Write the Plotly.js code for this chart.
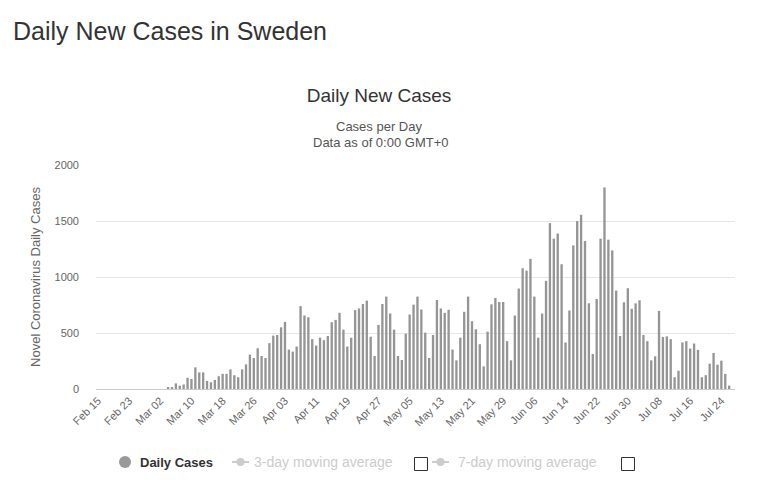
<!DOCTYPE html>
<html><head><meta charset="utf-8">
<script src="https://cdn.plot.ly/plotly-3.0.1.min.js"></script>
<style>html,body{margin:0;padding:0;background:#fff;}#chart{width:776px;height:495px;}</style>
</head><body><div id="chart"></div>
<script>
const dates = [
"Feb 15","Feb 16","Feb 17","Feb 18","Feb 19","Feb 20","Feb 21","Feb 22","Feb 23","Feb 24","Feb 25","Feb 26","Feb 27","Feb 28","Feb 29",
"Mar 01","Mar 02","Mar 03","Mar 04","Mar 05","Mar 06","Mar 07","Mar 08","Mar 09","Mar 10","Mar 11","Mar 12","Mar 13","Mar 14","Mar 15","Mar 16","Mar 17","Mar 18","Mar 19","Mar 20","Mar 21","Mar 22","Mar 23","Mar 24","Mar 25","Mar 26","Mar 27","Mar 28","Mar 29","Mar 30","Mar 31",
"Apr 01","Apr 02","Apr 03","Apr 04","Apr 05","Apr 06","Apr 07","Apr 08","Apr 09","Apr 10","Apr 11","Apr 12","Apr 13","Apr 14","Apr 15","Apr 16","Apr 17","Apr 18","Apr 19","Apr 20","Apr 21","Apr 22","Apr 23","Apr 24","Apr 25","Apr 26","Apr 27","Apr 28","Apr 29","Apr 30",
"May 01","May 02","May 03","May 04","May 05","May 06","May 07","May 08","May 09","May 10","May 11","May 12","May 13","May 14","May 15","May 16","May 17","May 18","May 19","May 20","May 21","May 22","May 23","May 24","May 25","May 26","May 27","May 28","May 29","May 30","May 31",
"Jun 01","Jun 02","Jun 03","Jun 04","Jun 05","Jun 06","Jun 07","Jun 08","Jun 09","Jun 10","Jun 11","Jun 12","Jun 13","Jun 14","Jun 15","Jun 16","Jun 17","Jun 18","Jun 19","Jun 20","Jun 21","Jun 22","Jun 23","Jun 24","Jun 25","Jun 26","Jun 27","Jun 28","Jun 29","Jun 30",
"Jul 01","Jul 02","Jul 03","Jul 04","Jul 05","Jul 06","Jul 07","Jul 08","Jul 09","Jul 10","Jul 11","Jul 12","Jul 13","Jul 14","Jul 15","Jul 16","Jul 17","Jul 18","Jul 19","Jul 20","Jul 21","Jul 22","Jul 23","Jul 24","Jul 25","Jul 26","Jul 27"
];
const dailyCases = [
0,0,0,0,0,0,0,0,0,0,0,0,0,0,0,
0,0,0,18,18,50,30,40,100,90,193,148,148,72,60,81,114,135,135,175,123,105,175,220,307,277,364,295,277,409,476,
482,551,599,352,334,379,740,656,641,445,388,458,436,473,596,617,680,530,379,458,704,719,759,789,467,295,572,759,825,674,
530,295,259,494,665,753,825,710,503,277,482,795,719,680,707,352,256,458,689,825,605,533,400,202,512,756,813,777,777,427,256,
656,897,1078,1057,1162,825,458,674,966,1481,1342,1388,1114,415,701,1282,1499,1556,1321,765,313,804,1342,1800,1333,1237,879,473,774,900,
716,765,792,482,427,256,292,698,464,470,445,105,163,415,427,361,406,349,105,123,226,322,217,253,135,30,0
];
const tickLabels = ["Feb 15","Feb 23","Mar 02","Mar 10","Mar 18","Mar 26","Apr 03","Apr 11","Apr 19","Apr 27","May 05","May 13","May 21","May 29","Jun 06","Jun 14","Jun 22","Jun 30","Jul 08","Jul 16","Jul 24"];
const yTicks = [0,500,1000,1500,2000];
const seriesName = "Daily Cases";
const inactiveNames = ["3-day moving average","7-day moving average"];

const W=776,H=495,M={l:96,r:41,t:165,b:106};
const PW=W-M.l-M.r, PH=H-M.t-M.b;
const px = x => (x-M.l)/PW;
const py = y => (H-M.b-y)/PH;
const FONT = '"Liberation Sans", Arial, sans-serif';

const trace = {
  type:'bar', x:dates, y:dailyCases, name:seriesName,
  marker:{color:'#959595'}, showlegend:false, hoverinfo:'x+y'
};

const legY = 462;
const shapes = [
  {type:'circle', xref:'paper', yref:'paper', x0:px(119), x1:px(131), y0:py(468), y1:py(456), fillcolor:'#999999', line:{width:0}},
  {type:'line', xref:'paper', yref:'paper', x0:px(232), x1:px(249), y0:py(legY), y1:py(legY), line:{color:'#cccccc', width:2}},
  {type:'circle', xref:'paper', yref:'paper', x0:px(236.5), x1:px(244.5), y0:py(466), y1:py(458), fillcolor:'#cccccc', line:{width:0}},
  {type:'rect', xref:'paper', yref:'paper', x0:px(414.5), x1:px(427.5), y0:py(470.5), y1:py(457.5), fillcolor:'#ffffff', line:{color:'#333333', width:1}},
  {type:'line', xref:'paper', yref:'paper', x0:px(432), x1:px(449), y0:py(legY), y1:py(legY), line:{color:'#cccccc', width:2}},
  {type:'circle', xref:'paper', yref:'paper', x0:px(436.5), x1:px(444.5), y0:py(466), y1:py(458), fillcolor:'#cccccc', line:{width:0}},
  {type:'rect', xref:'paper', yref:'paper', x0:px(621.5), x1:px(634.5), y0:py(470.5), y1:py(457.5), fillcolor:'#ffffff', line:{color:'#333333', width:1}}
];

const annotations = [
  {text:'Daily New Cases in Sweden', xref:'paper', yref:'paper', x:px(11), y:py(31), xanchor:'left', yanchor:'middle', showarrow:false, font:{family:FONT, size:25, color:'#333333'}},
  {text:'Cases per Day', xref:'paper', yref:'paper', x:px(379), y:py(126), xanchor:'center', yanchor:'middle', showarrow:false, font:{family:FONT, size:13, color:'#555555'}},
  {text:'Data as of 0:00 GMT+0', xref:'paper', yref:'paper', x:px(380), y:py(142), xanchor:'center', yanchor:'middle', showarrow:false, font:{family:FONT, size:13, color:'#555555'}},
  {text:'<b>'+seriesName+'</b>', xref:'paper', yref:'paper', x:px(138), y:py(legY), xanchor:'left', yanchor:'middle', showarrow:false, font:{family:FONT, size:13, color:'#333333'}},
  {text:inactiveNames[0], xref:'paper', yref:'paper', x:px(252), y:py(legY), xanchor:'left', yanchor:'middle', showarrow:false, font:{family:FONT, size:14, color:'#cccccc'}},
  {text:inactiveNames[1], xref:'paper', yref:'paper', x:px(456), y:py(legY), xanchor:'left', yanchor:'middle', showarrow:false, font:{family:FONT, size:14, color:'#cccccc'}}
];

const layout = {
  width:W, height:H, margin:M, paper_bgcolor:'#ffffff', plot_bgcolor:'#ffffff',
  font:{family:FONT, color:'#666666'},
  title:{text:'Daily New Cases', font:{family:FONT, size:19, color:'#333333'}, xref:'container', yref:'container', x:379/W, xanchor:'center', y:1-95/H, yanchor:'middle'},
  bargap:0.4, showlegend:false,
  xaxis:{type:'category', tickmode:'array', tickvals:tickLabels, ticktext:tickLabels, tickangle:-45,
    tickfont:{family:FONT, size:11, color:'#666666'}, showgrid:false, showline:true, linecolor:'#cccccc', linewidth:1,
    ticks:'', zeroline:false, fixedrange:true, automargin:false},
  yaxis:{range:[0,2000], tickmode:'array', tickvals:yTicks, ticktext:yTicks.map(String),
    tickfont:{family:FONT, size:11, color:'#666666'}, showgrid:true, gridcolor:'#e6e6e6', gridwidth:1,
    zeroline:false, showline:false, ticks:'', ticklabelstandoff:16, automargin:false,
    title:{text:'Novel Coronavirus Daily Cases', font:{family:FONT, size:13, color:'#666666'}, standoff:10}},
  shapes:shapes, annotations:annotations
};

Plotly.newPlot('chart',[trace],layout,{displayModeBar:false, staticPlot:true});
</script>
</body></html>
